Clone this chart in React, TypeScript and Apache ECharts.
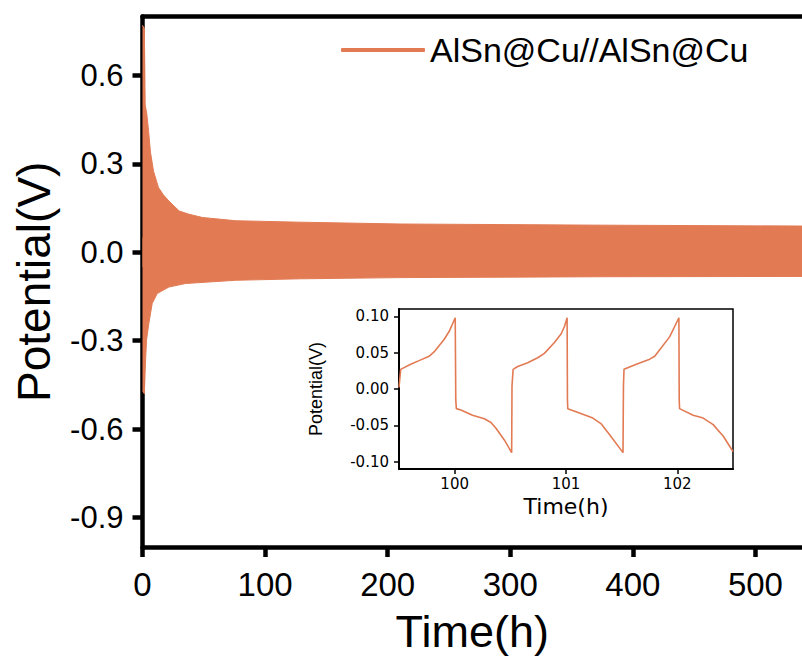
import React, { useEffect, useRef } from "react";
import * as echarts from "echarts";

// Main chart: envelope of the dense potential oscillation
const upperTime = [0, 1.5, 2.2, 3.5, 5, 6.5, 9, 13, 17, 21.5, 30, 38, 49, 76, 129, 210, 374, 538];
const upperPotential = [0.77, 0.76, 0.5, 0.47, 0.41, 0.34, 0.275, 0.22, 0.195, 0.174, 0.14, 0.129, 0.118, 0.107, 0.102, 0.096, 0.092, 0.089];
const lowerTime = [0, 1.5, 2.4, 3.3, 5.2, 7.9, 12, 21.5, 35, 76, 129, 210, 374, 538];
const lowerPotential = [-0.47, -0.48, -0.376, -0.298, -0.241, -0.174, -0.14, -0.118, -0.106, -0.095, -0.09, -0.086, -0.083, -0.082];

// Inset: zoomed cycles around 100 h
const insetTime = [99.5, 99.515, 99.605, 99.68, 99.77, 99.815, 99.905, 99.95, 99.971, 100.005, 100.01, 100.015, 100.056, 100.16, 100.266, 100.326, 100.371, 100.446, 100.512, 100.515, 100.525, 100.566, 100.656, 100.746, 100.806, 100.896, 100.957, 100.986, 101.01, 101.013, 101.016, 101.121, 101.241, 101.317, 101.392, 101.512, 101.516, 101.521, 101.632, 101.752, 101.797, 101.842, 101.932, 102.014, 102.017, 102.02, 102.142, 102.232, 102.322, 102.413, 102.5];
const insetPotential = [0.002, 0.027, 0.034, 0.039, 0.045, 0.051, 0.068, 0.079, 0.086, 0.098, -0.015, -0.027, -0.029, -0.036, -0.041, -0.046, -0.054, -0.07, -0.0875, 0.004, 0.027, 0.031, 0.036, 0.043, 0.049, 0.064, 0.076, 0.086, 0.098, -0.015, -0.027, -0.033, -0.04, -0.048, -0.063, -0.0875, 0.004, 0.027, 0.034, 0.041, 0.045, 0.054, 0.072, 0.098, -0.015, -0.027, -0.036, -0.04, -0.049, -0.065, -0.086];

const mainYTicks = [-0.9, -0.6, -0.3, 0, 0.3, 0.6];
const insetXTicks = [100, 101, 102];
const insetYTicks = [-0.1, -0.05, 0, 0.05, 0.1];

const seriesName = "AlSn@Cu//AlSn@Cu";
const COLOR = "#E27B54";
const FONT = "'Liberation Sans', Arial, Helvetica, sans-serif";
const WIDE = "'DejaVu Sans', Verdana, sans-serif";

export default function App() {
  const ref = useRef<HTMLDivElement>(null);
  useEffect(() => {
    document.body.style.margin = "0";
    if (!ref.current) return;
    const chart = echarts.init(ref.current, null, { renderer: "svg" });
    const zip = (a: number[], b: number[]) => a.map((t, i) => [t, b[i]]);
    chart.setOption({
      animation: false,
      backgroundColor: "#fff",
      textStyle: { fontFamily: FONT },
      legend: {
        show: true,
        data: [{ name: seriesName, icon: "roundRect" }],
        left: 336,
        top: 28,
        itemWidth: 84,
        itemHeight: 4,
        itemStyle: { color: COLOR, borderWidth: 0 },
        textStyle: { fontSize: 34, color: "#000", fontFamily: FONT },
      },
      grid: [
        { left: 142.5, right: 0, top: 16.5, bottom: 108 },
        { left: 399, right: 69, top: 309, bottom: 190, show: true, borderColor: "#000", borderWidth: 1.5, backgroundColor: "#fff", z: 5 },
      ],
      xAxis: [
        {
          type: "value",
          gridIndex: 0,
          min: 0,
          max: 538,
          interval: 100,
          name: "Time(h)",
          nameLocation: "middle",
          nameGap: 62,
          nameTextStyle: { fontSize: 45, color: "#000", fontFamily: FONT },
          axisLine: { show: true, onZero: false, lineStyle: { color: "#000", width: 4.5 } },
          axisTick: { show: true, inside: false, length: 10, lineStyle: { color: "#000", width: 4.5 } },
          axisLabel: { fontSize: 33, color: "#000", margin: 21, fontFamily: FONT, showMaxLabel: false },
          splitLine: { show: false },
        },
        {
          type: "value",
          gridIndex: 0,
          position: "top",
          min: 0,
          max: 538,
          axisLine: { show: true, onZero: false, lineStyle: { color: "#000", width: 4.5 } },
          axisTick: { show: false },
          axisLabel: { show: false },
          splitLine: { show: false },
        },
        {
          type: "value",
          gridIndex: 1,
          min: 99.5,
          max: 102.5,
          name: "Time(h)",
          nameLocation: "middle",
          nameGap: 26,
          nameTextStyle: { fontSize: 22, color: "#000", fontFamily: WIDE },
          axisLine: { show: true, onZero: false, lineStyle: { color: "#000", width: 2 } },
          axisTick: { show: true, inside: false, length: 5, customValues: insetXTicks, lineStyle: { color: "#000", width: 1.5 } },
          axisLabel: { fontSize: 15, color: "#000", margin: 7, customValues: insetXTicks, fontFamily: WIDE, formatter: (v: number) => String(Math.round(v)) },
          splitLine: { show: false },
          z: 6,
        },
      ],
      yAxis: [
        {
          type: "value",
          gridIndex: 0,
          min: -1.0,
          max: 0.8,
          name: "Potential(V)",
          nameLocation: "middle",
          nameGap: 86,
          nameTextStyle: { fontSize: 46, color: "#000", fontFamily: FONT },
          axisLine: { show: true, onZero: false, lineStyle: { color: "#000", width: 4.5 } },
          axisTick: { show: true, inside: false, length: 10, customValues: mainYTicks, lineStyle: { color: "#000", width: 4.5 } },
          axisLabel: { fontSize: 31, color: "#000", margin: 19, customValues: mainYTicks, fontFamily: FONT, formatter: (v: number) => v.toFixed(1) },
          splitLine: { show: false },
        },
        {
          type: "value",
          gridIndex: 1,
          min: -0.11,
          max: 0.11,
          name: "Potential(V)",
          nameLocation: "middle",
          nameGap: 74,
          nameTextStyle: { fontSize: 18, color: "#000", fontFamily: FONT },
          axisLine: { show: true, onZero: false, lineStyle: { color: "#000", width: 2 } },
          axisTick: { show: true, inside: false, length: 5, customValues: insetYTicks, lineStyle: { color: "#000", width: 1.5 } },
          axisLabel: { fontSize: 15, color: "#000", margin: 10, customValues: insetYTicks, fontFamily: WIDE, formatter: (v: number) => v.toFixed(2) },
          splitLine: { show: false },
          z: 6,
        },
      ],
      series: [
        {
          name: seriesName,
          type: "line",
          xAxisIndex: 0,
          yAxisIndex: 0,
          data: zip(upperTime, upperPotential),
          symbol: "none",
          lineStyle: { color: COLOR, width: 1 },
          itemStyle: { color: COLOR },
          areaStyle: { color: COLOR, opacity: 1, origin: -0.05 },
        },
        {
          name: seriesName,
          type: "line",
          xAxisIndex: 0,
          yAxisIndex: 0,
          data: zip(lowerTime, lowerPotential),
          symbol: "none",
          lineStyle: { color: COLOR, width: 1 },
          itemStyle: { color: COLOR },
          areaStyle: { color: COLOR, opacity: 1, origin: 0.05 },
        },
        {
          name: "inset",
          type: "line",
          xAxisIndex: 2,
          yAxisIndex: 1,
          data: zip(insetTime, insetPotential),
          symbol: "none",
          lineStyle: { color: COLOR, width: 1.6 },
          z: 7,
        },
      ],
    });
    return () => chart.dispose();
  }, []);
  return <div ref={ref} style={{ width: 802, height: 659 }} />;
}
